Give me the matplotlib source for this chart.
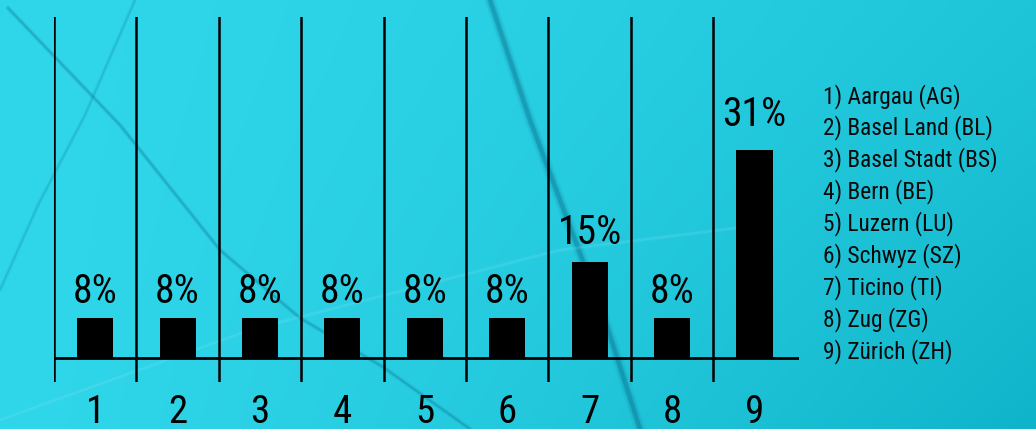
import numpy as np
import matplotlib.pyplot as plt
from matplotlib.transforms import blended_transform_factory

# Canton shares of the total (percent)
codes = ["1", "2", "3", "4", "5", "6", "7", "8", "9"]
cantons = ["Aargau (AG)", "Basel Land (BL)", "Basel Stadt (BS)", "Bern (BE)",
           "Luzern (LU)", "Schwyz (SZ)", "Ticino (TI)", "Zug (ZG)", "Zürich (ZH)"]
shares = [7.69, 7.69, 7.69, 7.69, 7.69, 7.69, 15.38, 7.69, 30.77]

FONT = ["Roboto Condensed", "Roboto", "DejaVu Sans"]
plt.rcParams["font.family"] = FONT

W, H = 1036, 429
fig = plt.figure(figsize=(W / 100, H / 100), dpi=100)

# --- cyan backdrop -------------------------------------------------------
bg = fig.add_axes([0, 0, 1, 1], zorder=-10)
gx = np.linspace(0, 1, 400)[None, :]
gy = np.linspace(0, 1, 200)[:, None]
left = np.array([48, 214, 233]) / 255
right = np.array([30, 196, 216]) / 255
img = left + (right - left) * (gx[..., None] ** 1.4)
img = img - np.array([14, 16, 14])[None, None, :] / 255 * (gx * gy)[..., None] ** 1.2
img = np.clip(img, 0, 1)
bg.imshow(img, extent=[0, W, H, 0], aspect="auto", interpolation="bicubic")
bg.set_xlim(0, W)
bg.set_ylim(H, 0)
bg.axis("off")


def soft_stroke(xs, ys, color, alpha, width):
    # several overlapping passes give a soft-edged stroke
    for f, a in ((2.6, 0.25), (1.7, 0.45), (1.0, 1.0)):
        bg.plot(xs, ys, color=color, alpha=alpha * a, lw=width * f,
                solid_capstyle="round")


soft_stroke([8, 120, 220, 300, 383, 470], [8, 125, 250, 318, 367, 429],
            "#0e7f9b", 0.30, 1.4)
soft_stroke([135, 85, 38, 0], [0, 115, 205, 290], "#0e7f9b", 0.18, 1.2)
soft_stroke([490, 530, 575, 605, 640], [0, 120, 240, 320, 429],
            "#0a6f8c", 0.35, 3.0)
soft_stroke([0, 250, 560, 760], [420, 330, 250, 225], "#8ef0ff", 0.12, 1.5)

# --- bar chart -------------------------------------------------------------
ax_l, ax_r = 54, 799
ax_top, ax_bot = 17, 382
ax = fig.add_axes([ax_l / W, (H - ax_bot) / H, (ax_r - ax_l) / W, (ax_bot - ax_top) / H])
ax.patch.set_alpha(0)
for s in ax.spines.values():
    s.set_visible(False)
ax.set_xticks([])
ax.set_yticks([])

base = 2.2
ax.set_xlim(0.5, 9.54)
ax.set_ylim(base - 3.3, base + 46.84)

x = np.arange(1, len(codes) + 1)
vals = np.array(shares)

for k in x:
    ax.axvline(k - 0.5, color="black", lw=1.8)
ax.axhline(base, color="black", lw=2.0)

ax.bar(x, vals - base, bottom=base, width=0.437, color="black", zorder=3)

for xi, v in zip(x, vals):
    ax.text(xi, v * 1.05 + 1.7, f"{v:.0f}%", ha="center", va="baseline",
            fontsize=28.5, color="black")

tr = blended_transform_factory(ax.transData, fig.transFigure)
for xi, c in zip(x, codes):
    ax.text(xi, (H - 423) / H, c, transform=tr, ha="center", va="baseline",
            fontsize=28, color="black")

# key of canton numbers
for i, (c, name) in enumerate(zip(codes, cantons)):
    fig.text(823 / W, (H - (103 + 31.9 * i)) / H, f"{c}) {name}",
             ha="left", va="baseline", fontsize=16.8, color="#0a0a0a")

fig.savefig("out.png", dpi=100)
